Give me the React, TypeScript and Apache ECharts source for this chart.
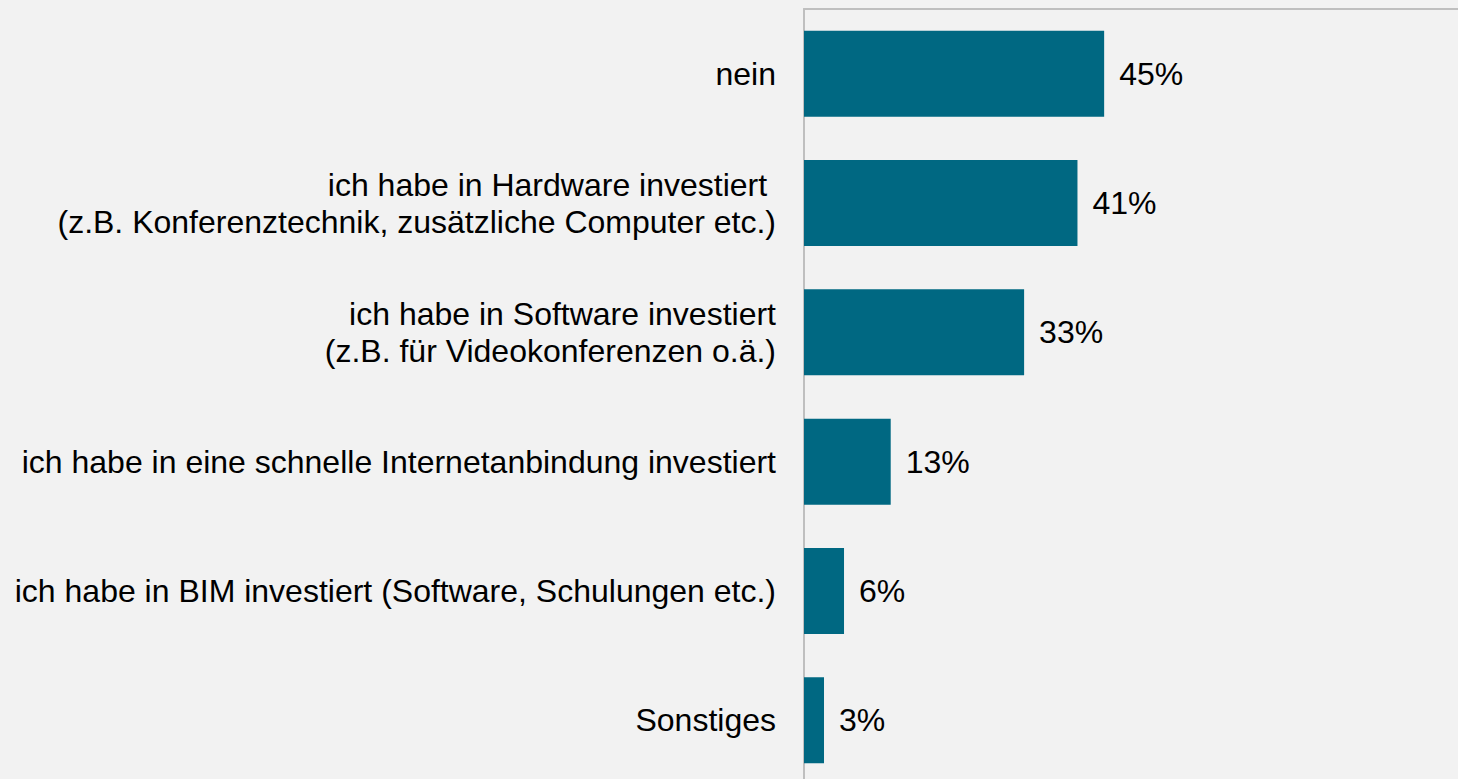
import React, { useEffect, useRef } from "react";
import * as echarts from "echarts";

const categories = [
  "nein",
  "ich habe in Hardware investiert \n(z.B. Konferenztechnik, zusätzliche Computer etc.)",
  "ich habe in Software investiert\n(z.B. für Videokonferenzen o.ä.)",
  "ich habe in eine schnelle Internetanbindung investiert",
  "ich habe in BIM investiert (Software, Schulungen etc.)",
  "Sonstiges",
];
const values = [45, 41, 33, 13, 6, 3];

const FONT = "'Liberation Sans', Arial, Helvetica, sans-serif";

export default function App() {
  const ref = useRef<HTMLDivElement>(null);
  useEffect(() => {
    if (!ref.current) return;
    const chart = echarts.init(ref.current, null, { renderer: "svg" });
    chart.setOption({
      animation: false,
      backgroundColor: "#f2f2f2",
      textStyle: { fontFamily: FONT },
      grid: { left: 804, top: 9, width: 667, height: 776, containLabel: false },
      xAxis: {
        type: "value",
        min: 0,
        max: 100,
        position: "top",
        axisLine: { show: true, lineStyle: { color: "#bfbfbf", width: 2 } },
        axisTick: { show: false },
        axisLabel: { show: false },
        splitLine: { show: false },
      },
      yAxis: {
        type: "category",
        inverse: true,
        data: categories,
        axisLine: { show: true, lineStyle: { color: "#bfbfbf", width: 2 } },
        axisTick: { show: false },
        axisLabel: {
          color: "#000",
          fontSize: 32,
          fontFamily: FONT,
          margin: 28,
          lineHeight: 37,
          align: "right",
        },
      },
      series: [
        {
          type: "bar",
          data: values,
          barWidth: 86,
          itemStyle: { color: "#006882" },
          label: {
            show: true,
            position: "right",
            distance: 15,
            formatter: "{c}%",
            color: "#000",
            fontSize: 32,
            fontFamily: FONT,
          },
        },
      ],
    });
    return () => chart.dispose();
  }, []);
  return (
    <div
      style={{
        position: "fixed",
        left: 0,
        top: 0,
        width: 1458,
        height: 779,
        overflow: "hidden",
        background: "#f2f2f2",
      }}
    >
      <div ref={ref} style={{ width: 1490, height: 800 }} />
    </div>
  );
}
